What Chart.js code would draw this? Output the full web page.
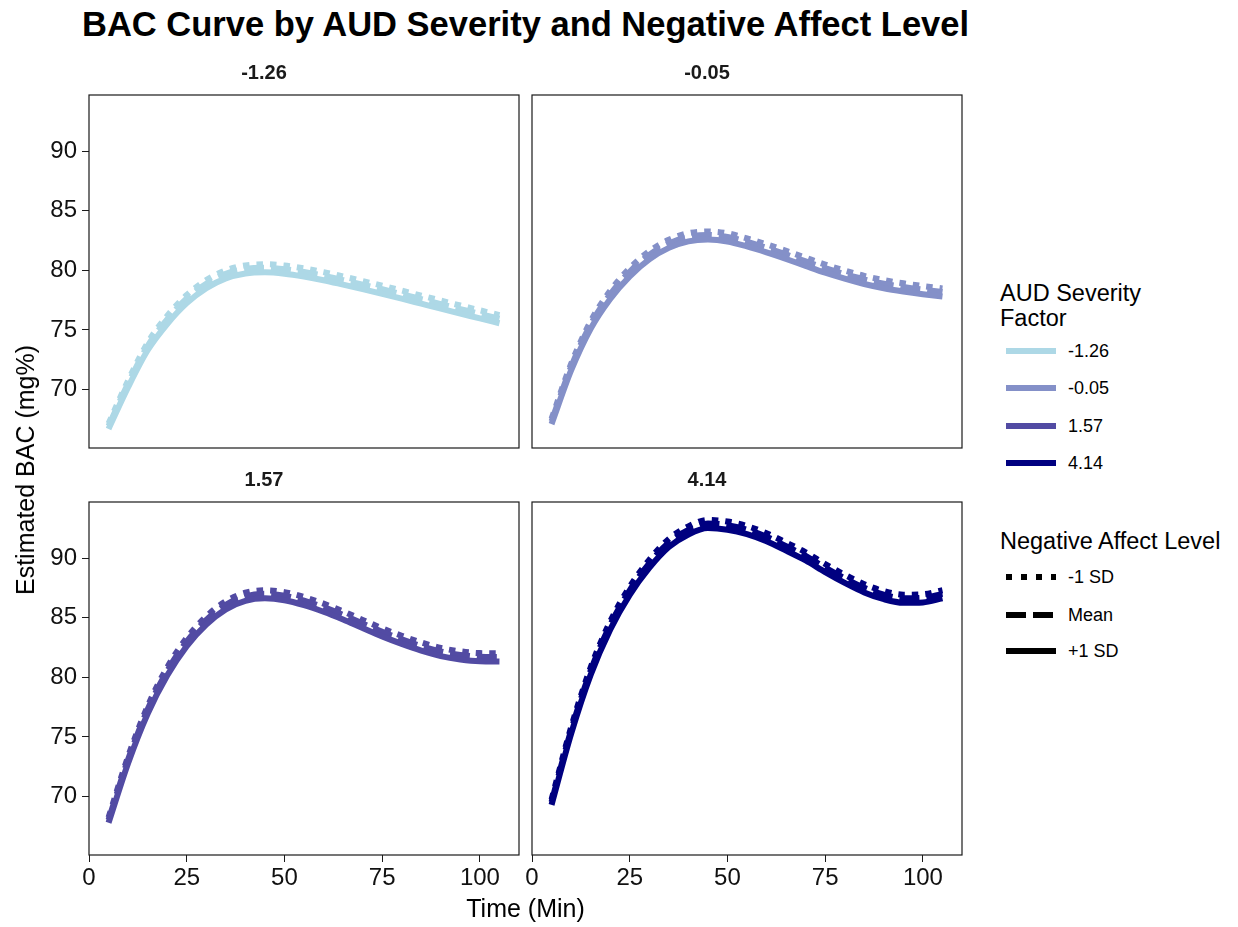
<!DOCTYPE html>
<html>
<head>
<meta charset="utf-8">
<title>BAC Curve by AUD Severity and Negative Affect Level</title>
<script src="https://cdn.jsdelivr.net/npm/chart.js@4.4.1/dist/chart.umd.min.js"></script>
<style>
  body { margin: 0; background: #fff; font-family: 'Liberation Sans', Arial, sans-serif; color: #000; }
  #page { position: relative; width: 1238px; height: 927px; overflow: hidden; background: #fff; }
  canvas.panel { position: absolute; }
  .txt { position: absolute; white-space: nowrap; }
  #title { left: 82px; top: 4px; font-size: 34.5px; line-height: 40px; font-weight: bold; }
  #xTitle { left: 0; width: 1051px; top: 894px; text-align: center; font-size: 25px; line-height: 28px; }
  #yTitle { left: 25px; top: 470px; font-size: 25px; line-height: 28px; transform: translate(-50%, -50%) rotate(-90deg); }
  .legTitle { position: absolute; left: 1000px; font-size: 23.5px; line-height: 25px; white-space: nowrap; }
  .key { position: absolute; left: 1006px; height: 20px; display: flex; align-items: center; }
  .key span { margin-left: 12px; font-size: 18px; }
</style>
</head>
<body>
<div id="page">
  <div id="title" class="txt">BAC Curve by AUD Severity and Negative Affect Level</div>
  <canvas class="panel" id="p1" width="516" height="443" style="left:9px;top:55px"></canvas>
  <canvas class="panel" id="p2" width="516" height="443" style="left:452px;top:55px"></canvas>
  <canvas class="panel" id="p3" width="516" height="443" style="left:9px;top:462px"></canvas>
  <canvas class="panel" id="p4" width="516" height="443" style="left:452px;top:462px"></canvas>
  <div id="xTitle" class="txt">Time (Min)</div>
  <div id="yTitle" class="txt">Estimated BAC (mg%)</div>
  <div id="legend"></div>
</div>
<script>
// time points (minutes) and axis ticks
const times = [5, 10, 15, 20, 25, 30, 35, 40, 45, 50, 55, 60, 65, 70, 75, 80, 85, 90, 95, 100, 105];
const xTicks = [0, 25, 50, 75, 100];
const yTicks = [70, 75, 80, 85, 90];

const severityLevels = ['-1.26', '-0.05', '1.57', '4.14'];
const affectLevels = ['-1 SD', 'Mean', '+1 SD'];

// estimated BAC (mg%), AUD severity -1.26
const bacSevA_low  = [67.15, 70.75, 73.92, 76.18, 77.93, 79.18, 80.00, 80.41, 80.51, 80.40, 80.16, 79.85, 79.48, 79.10, 78.71, 78.30, 77.88, 77.46, 77.05, 76.65, 76.24];
const bacSevA_mean = [66.95, 70.50, 73.65, 75.88, 77.63, 78.88, 79.70, 80.11, 80.21, 80.10, 79.86, 79.55, 79.18, 78.80, 78.41, 78.00, 77.58, 77.16, 76.75, 76.35, 75.94];
const bacSevA_high = [66.70, 70.20, 73.30, 75.50, 77.25, 78.50, 79.32, 79.73, 79.83, 79.72, 79.48, 79.17, 78.80, 78.42, 78.03, 77.62, 77.20, 76.78, 76.37, 75.97, 75.56];

// AUD severity -0.05
const bacSevB_low  = [67.55, 72.15, 75.72, 78.28, 80.18, 81.60, 82.56, 83.11, 83.26, 83.10, 82.68, 82.18, 81.63, 81.05, 80.48, 79.98, 79.53, 79.18, 78.91, 78.68, 78.48];
const bacSevB_mean = [67.35, 71.90, 75.45, 77.98, 79.88, 81.30, 82.26, 82.81, 82.96, 82.80, 82.38, 81.88, 81.33, 80.75, 80.18, 79.68, 79.23, 78.88, 78.61, 78.38, 78.18];
const bacSevB_high = [67.10, 71.60, 75.10, 77.60, 79.50, 80.92, 81.88, 82.43, 82.58, 82.42, 82.00, 81.50, 80.95, 80.37, 79.80, 79.30, 78.85, 78.50, 78.23, 78.00, 77.80];

// AUD severity 1.57
const bacSevC_low  = [68.25, 73.35, 77.57, 80.83, 83.30, 85.11, 86.38, 87.09, 87.30, 87.14, 86.73, 86.18, 85.53, 84.81, 84.11, 83.48, 82.92, 82.46, 82.18, 82.03, 82.01];
const bacSevC_mean = [68.05, 73.10, 77.30, 80.53, 83.00, 84.81, 86.08, 86.79, 87.00, 86.84, 86.43, 85.88, 85.23, 84.51, 83.81, 83.18, 82.62, 82.16, 81.88, 81.73, 81.71];
const bacSevC_high = [67.80, 72.80, 76.95, 80.15, 82.62, 84.43, 85.70, 86.41, 86.62, 86.46, 86.05, 85.50, 84.85, 84.13, 83.43, 82.80, 82.24, 81.78, 81.50, 81.35, 81.33];

// AUD severity 4.14
const bacSevD_low  = [69.75, 75.80, 80.82, 84.68, 87.60, 89.85, 91.60, 92.66, 93.20, 93.06, 92.68, 92.08, 91.30, 90.48, 89.50, 88.60, 87.80, 87.23, 86.93, 86.96, 87.30];
const bacSevD_mean = [69.55, 75.55, 80.55, 84.38, 87.30, 89.55, 91.30, 92.36, 92.90, 92.76, 92.38, 91.78, 91.00, 90.18, 89.20, 88.30, 87.50, 86.93, 86.63, 86.66, 87.00];
const bacSevD_high = [69.30, 75.25, 80.20, 84.00, 86.92, 89.17, 90.92, 91.98, 92.52, 92.38, 92.00, 91.40, 90.62, 89.80, 88.82, 87.92, 87.12, 86.55, 86.25, 86.28, 86.62];

// styling
const severityColors = ['#ADD8E6', '#8490C8', '#524BA3', '#000080'];
const affectDashes = [[6.5, 7], [20, 7], []];
const fontFamily = "'Liberation Sans', Arial, sans-serif";

const panelBorder = {
  id: 'panelBorder',
  afterDatasetsDraw(chart) {
    const { ctx, chartArea: a } = chart;
    ctx.save();
    ctx.strokeStyle = '#1a1a1a';
    ctx.lineWidth = 1.2;
    ctx.strokeRect(a.left, a.top, a.right - a.left, a.bottom - a.top);
    ctx.restore();
  }
};

function makePanel(id, sev, series, showX, showY) {
  const datasets = series.map((vals, k) => ({
    label: affectLevels[k],
    data: times.map((t, i) => ({ x: t, y: vals[i] })),
    borderColor: severityColors[sev],
    borderWidth: 6,
    borderDash: affectDashes[k],
    borderCapStyle: 'butt',
    pointRadius: 0,
    fill: false,
    cubicInterpolationMode: 'monotone',
    order: 2 - k
  }));

  return new Chart(document.getElementById(id), {
    type: 'line',
    data: { datasets },
    options: {
      responsive: false,
      animation: false,
      devicePixelRatio: 1,
      layout: { padding: { top: 6, right: 6, bottom: 0, left: 0 } },
      plugins: {
        legend: { display: false },
        tooltip: { enabled: false },
        title: {
          display: true,
          text: severityLevels[sev],
          color: '#1a1a1a',
          font: { family: fontFamily, size: 20, weight: 'bold', lineHeight: 1.2 },
          padding: { top: 0, bottom: 10 }
        }
      },
      scales: {
        x: {
          type: 'linear',
          min: 0,
          max: 110,
          afterBuildTicks: s => { s.ticks = xTicks.map(v => ({ value: v })); },
          afterFit: s => { s.height = 50; },
          border: { display: false },
          grid: { display: showX, drawOnChartArea: false, drawTicks: true, tickLength: 7, color: '#1a1a1a', lineWidth: 1 },
          ticks: { display: showX, color: '#111', padding: 2, maxRotation: 0, font: { family: fontFamily, size: 24 } }
        },
        y: {
          min: 65.1,
          max: 94.7,
          afterBuildTicks: s => { s.ticks = yTicks.map(v => ({ value: v })); },
          afterFit: s => { s.width = 80; },
          border: { display: false },
          grid: { display: showY, drawOnChartArea: false, drawTicks: true, tickLength: 7, color: '#1a1a1a', lineWidth: 1 },
          ticks: { display: showY, color: '#111', padding: 5, font: { family: fontFamily, size: 24 } }
        }
      }
    },
    plugins: [panelBorder]
  });
}

makePanel('p1', 0, [bacSevA_low, bacSevA_mean, bacSevA_high], false, true);
makePanel('p2', 1, [bacSevB_low, bacSevB_mean, bacSevB_high], false, false);
makePanel('p3', 2, [bacSevC_low, bacSevC_mean, bacSevC_high], true, true);
makePanel('p4', 3, [bacSevD_low, bacSevD_mean, bacSevD_high], true, false);

// legend: colour keys for severity, line type keys for negative affect
function keyLine(color, dash) {
  const da = dash.length ? ` stroke-dasharray="${dash.join(' ')}"` : '';
  return `<svg width="50" height="20"><line x1="0" y1="10" x2="50" y2="10" stroke="${color}" stroke-width="6"${da}/></svg>`;
}
const legend = document.getElementById('legend');
let html = '<div class="legTitle" style="top:281px">AUD Severity<br>Factor</div>';
const sevRows = [351, 388, 426, 463];
severityLevels.forEach((lab, i) => {
  html += `<div class="key" style="top:${sevRows[i] - 10}px">${keyLine(severityColors[i], [])}<span>${lab}</span></div>`;
});
html += '<div class="legTitle" style="top:529px">Negative Affect Level</div>';
const affRows = [577, 615, 651];
const legendDashes = [[6, 9], [20, 7], []];
affectLevels.forEach((lab, i) => {
  html += `<div class="key" style="top:${affRows[i] - 10}px">${keyLine('#000', legendDashes[i])}<span>${lab}</span></div>`;
});
legend.innerHTML = html;
</script>
</body>
</html>
